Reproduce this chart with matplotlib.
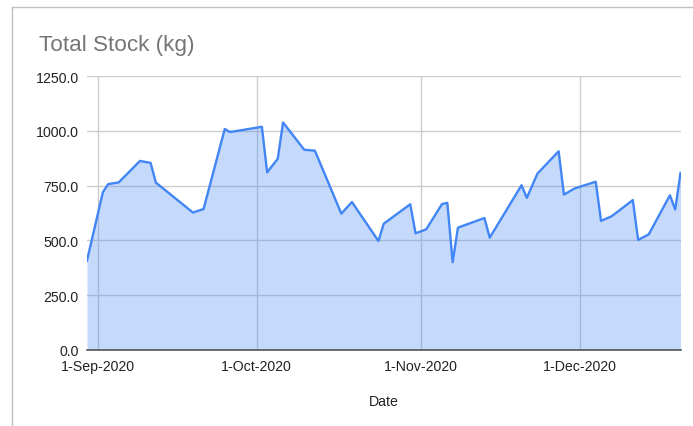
# Total Stock (kg) area chart, Google Sheets style
import datetime
import matplotlib
matplotlib.use("Agg")
import matplotlib.pyplot as plt
import matplotlib.dates as mdates
from matplotlib.ticker import FuncFormatter, MultipleLocator
from matplotlib.lines import Line2D

plt.rcParams['font.family'] = ['Liberation Sans', 'DejaVu Sans']

# data
dates = ["2020-08-30", "2020-09-02", "2020-09-03", "2020-09-05", "2020-09-09",
         "2020-09-11", "2020-09-12", "2020-09-19", "2020-09-21", "2020-09-25",
         "2020-09-26", "2020-10-02", "2020-10-03", "2020-10-05", "2020-10-06",
         "2020-10-10", "2020-10-12", "2020-10-17", "2020-10-19", "2020-10-24",
         "2020-10-25", "2020-10-30", "2020-10-31", "2020-11-02", "2020-11-05",
         "2020-11-06", "2020-11-07", "2020-11-08", "2020-11-13", "2020-11-14",
         "2020-11-20", "2020-11-21", "2020-11-23", "2020-11-27", "2020-11-28",
         "2020-11-30", "2020-12-04", "2020-12-05", "2020-12-07", "2020-12-11",
         "2020-12-12", "2020-12-14", "2020-12-18", "2020-12-19", "2020-12-20"]
stock = [407, 720, 757, 765, 863,
         854, 764, 627, 643, 1009,
         995, 1019, 811, 873, 1039,
         914, 910, 622, 675, 497,
         576, 665, 532, 550, 666,
         671, 400, 558, 602, 512,
         752, 694, 805, 907, 709,
         737, 768, 589, 610, 684,
         502, 527, 706, 641, 808]
month_ticks = ["2020-09-01", "2020-10-01", "2020-11-01", "2020-12-01"]

x = [datetime.datetime.strptime(d, "%Y-%m-%d") for d in dates]
xt = [datetime.datetime.strptime(d, "%Y-%m-%d") for d in month_ticks]

fig = plt.figure(figsize=(6.93, 4.27), dpi=100)
ax = fig.add_axes([0.1255, 0.1787, 0.8565, 0.6403])

ax.fill_between(x, stock, 0, color='#4285f4', alpha=0.3, linewidth=0, zorder=3)
ax.plot(x, stock, color='#4285f4', linewidth=1.7, zorder=4)

ax.set_xlim(x[0], x[-1])
ax.set_ylim(0, 1250)
ax.yaxis.set_major_locator(MultipleLocator(250))
ax.yaxis.set_major_formatter(FuncFormatter(lambda v, p: f"{v:.1f}"))
ax.set_xticks(xt)
ax.xaxis.set_major_formatter(FuncFormatter(
    lambda v, p: (lambda d: f"{d.day}-{d.strftime('%b-%Y')}")(mdates.num2date(v))))

ax.grid(True, color='#cccccc', linewidth=1.0, zorder=1)
ax.set_axisbelow(True)
for s in ['top', 'right', 'left']:
    ax.spines[s].set_visible(False)
ax.spines['bottom'].set_color('#555555')
ax.spines['bottom'].set_linewidth(1.2)
ax.spines['bottom'].set_zorder(5)
ax.tick_params(axis='both', length=0, labelsize=10.2, labelcolor='#222222')
ax.tick_params(axis='y', pad=6)
ax.tick_params(axis='x', pad=7)

fig.text(0.056, 0.893, "Total Stock (kg)", fontsize=16.2, color='#757575', va='center')
fig.text(0.554, 0.0585, "Date", fontsize=10.2, color='#222222', ha='center', va='center')

# outer chart border (cropped)
fig.add_artist(Line2D([12 / 693, 12 / 693], [0, 1 - 7.5 / 427], color='#c0c0c0', linewidth=1))
fig.add_artist(Line2D([12 / 693, 1], [1 - 7.5 / 427, 1 - 7.5 / 427], color='#c0c0c0', linewidth=1))

fig.savefig("out.png", dpi=100)
